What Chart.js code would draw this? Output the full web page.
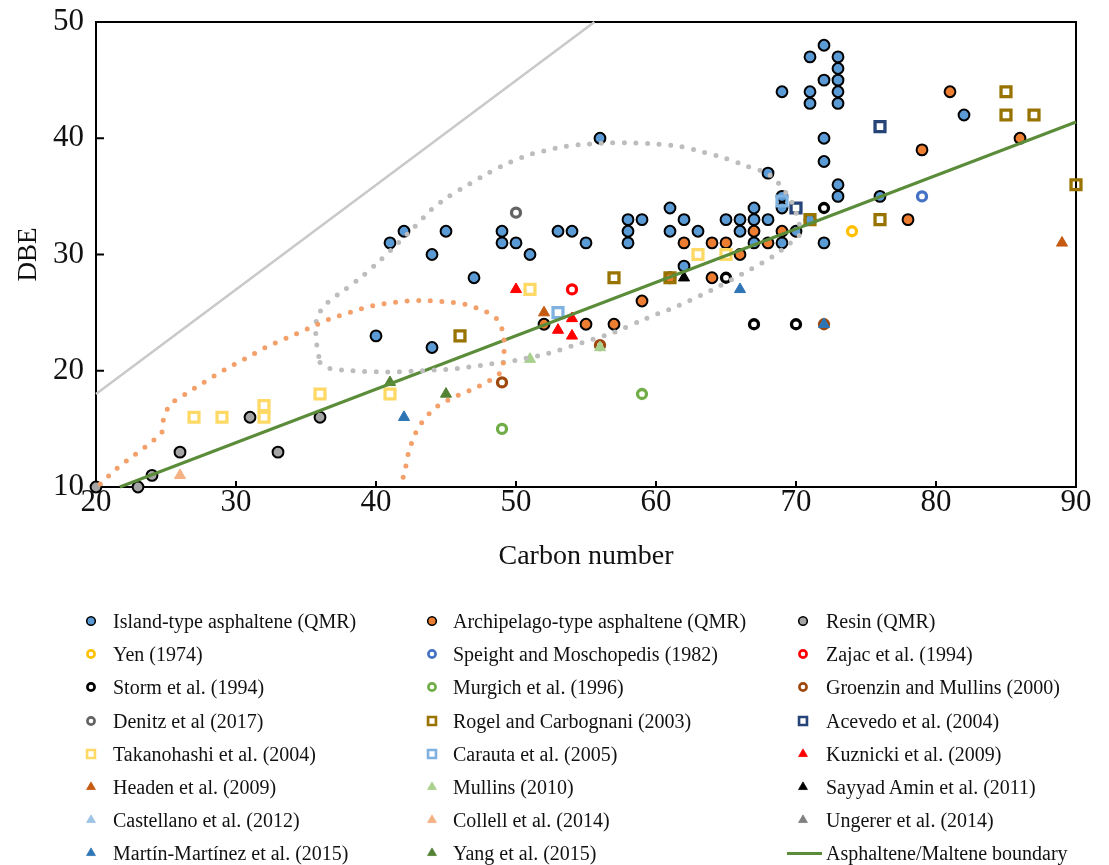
<!DOCTYPE html>
<html>
<head>
<meta charset="utf-8">
<script src="https://cdn.jsdelivr.net/npm/chart.js"></script>
<style>
  body { margin: 0; background: #fff; }
  #wrap { position: relative; width: 1109px; height: 865px; }
  #box { position: absolute; left: 0; top: 0; width: 1109px; height: 580px; }
  #legend { position: absolute; left: 0; top: 0; width: 1109px; height: 865px;
    font-family: "Liberation Serif", "Times New Roman", serif; font-size: 20px; color: #111; }
  .item { position: absolute; white-space: nowrap; line-height: 24px; }
  .mk { position: absolute; }
</style>
</head>
<body>
<div id="wrap">
  <div id="box"><canvas id="chart"></canvas></div>
  <div id="legend"></div>
</div>
<script>
// data: [carbon number, DBE]
const island = [[72,48],[71,47],[73,47],[73,46],[72,45],[73,45],[69,44],[71,44],[73,44],[71,43],[73,43],
  [82,42],[56,40],[72,40],[72,38],[68,37],[73,36],[73,35],[76,35],[69,35],[61,34],[67,34],[69,34],
  [58,33],[59,33],[62,33],[65,33],[66,33],[67,33],[68,33],[71,33],
  [42,32],[45,32],[49,32],[53,32],[54,32],[58,32],[61,32],[63,32],[66,32],[70,32],
  [41,31],[49,31],[50,31],[55,31],[58,31],[67,31],[69,31],[72,31],
  [44,30],[51,30],[62,29],[47,28],[40,23],[44,22]];
const archipelago = [[81,44],[86,40],[79,39],[78,33],[67,32],[69,32],[62,31],[64,31],[65,31],[68,31],
  [66,30],[61,28],[64,28],[59,26],[52,24],[55,24],[57,24]];
const resin = [[20,10],[23,10],[24,11],[26,13],[33,13],[31,16],[36,16]];
const yen = [[74,32]];
const speight = [[79,35]];
const zajac = [[54,27]];
const storm = [[72,34],[65,28],[67,24],[70,24]];
const murgich = [[49,15],[59,18]];
const groenzin = [[49,19],[56,22.2],[72,24]];
const denitz = [[50,33.6]];
const rogel = [[85,44],[85,42],[87,42],[90,36],[71,33],[76,33],[57,28],[61,28],[46,23]];
const acevedo = [[76,41],[70,34]];
const takanohashi = [[27,16],[29,16],[32,16],[32,17],[36,18],[41,18],[51,27],[63,30],[65,30]];
const carauta = [[69,34.6],[53,25]];
const kuznicki = [[50,27],[54,24.5],[53,23.5],[54,23]];
const headen = [[89,31],[52,25]];
const mullins = [[51,21],[56,22]];
const sayyad = [[62,28]];
const castellano = [];
const collell = [[26,11]];
const ungerer = [];
const martin = [[42,16],[66,27],[72,24]];
const yang = [[41,19],[45,18]];
const boundary = [[21.7,10],[90,41.4]];
const maxLine = [[20,18],[55.6,50]];
const islandRegion = [[36.0,20.7],[36.7,20.2],[38.3,20.0],[40.8,19.9],[43.3,20.0],[45.8,20.2],[48.3,20.6],
  [50.0,20.9],[52.3,21.5],[54.7,22.4],[57.0,23.3],[59.3,24.5],[61.6,25.6],[63.9,26.9],[66.1,28.3],
  [68.3,29.8],[69.6,31.0],[70.3,31.8],[70.2,32.8],[69.7,34.5],[68.7,36.2],[67.9,37.0],[66.5,37.6],
  [64.9,38.3],[63.4,38.8],[61.7,39.3],[60.1,39.5],[58.5,39.6],[56.8,39.6],[55.2,39.5],[53.5,39.3],
  [51.0,38.6],[49.5,37.9],[48.0,37.0],[46.6,36.0],[45.2,35.0],[43.9,33.8],[42.7,32.3],[41.5,30.9],
  [40.3,29.5],[39.1,28.2],[37.8,27.0],[36.5,25.8],[35.8,24.6],[35.7,23.0],[35.8,22.0],[36.0,20.7]];
const archRegion = [[20.3,10.25],[21.5,11.6],[22.8,12.8],[24.1,14.0],[24.7,14.7],[24.8,15.7],[25.1,16.7],
  [25.6,17.4],[26.4,18.0],[27.7,19.0],[29.2,20.1],[30.6,21.0],[32.1,22.0],[33.6,22.8],[35.1,23.6],
  [36.6,24.4],[38.2,25.05],[39.8,25.6],[41.4,25.9],[43.1,26.05],[44.7,25.95],[46.4,25.7],[47.9,25.05],
  [48.6,24.5],[49.0,23.6],[49.15,22.6],[49.15,21.7],[49.1,20.7],[48.85,19.8],[48.1,19.15],[47.4,18.7],
  [46.7,18.3],[45.9,17.9],[45.2,17.5],[44.45,17.0],[43.8,16.3],[43.3,15.6],[42.85,14.7],[42.55,13.8],
  [42.3,12.85],[42.15,11.9],[41.95,10.9],[41.85,10.0]];

const xTicks = [20, 30, 40, 50, 60, 70, 80, 90];
const yTicks = [10, 20, 30, 40, 50];

const serif = '"Liberation Serif", "Times New Roman", serif';

// marker kinds
function dot(fill) { return { pointStyle: 'circle', pointRadius: 5.4, pointBorderWidth: 2, pointBackgroundColor: fill, pointBorderColor: '#000' }; }
function ring(col) { return { pointStyle: 'circle', pointRadius: 4.5, pointBorderWidth: 3.3, pointBackgroundColor: 'transparent', pointBorderColor: col }; }
function box(col) { return { pointStyle: 'rect', pointRadius: 7, pointBorderWidth: 3.3, pointBackgroundColor: 'transparent', pointBorderColor: col }; }
function tri(col) { return { pointStyle: 'triangle', pointRadius: 6.4, pointBorderWidth: 1, pointBackgroundColor: col, pointBorderColor: col }; }

const series = [
  ["Island-type asphaltene (QMR)", island, dot('#5B9BD5')],
  ["Archipelago-type asphaltene (QMR)", archipelago, dot('#ED7D31')],
  ["Resin (QMR)", resin, dot('#A5A5A5')],
  ["Yen (1974)", yen, ring('#FFC000')],
  ["Speight and Moschopedis (1982)", speight, ring('#4472C4')],
  ["Zajac et al. (1994)", zajac, ring('#FF0000')],
  ["Storm et al. (1994)", storm, ring('#000000')],
  ["Murgich et al.  (1996)", murgich, ring('#70AD47')],
  ["Groenzin and Mullins (2000)", groenzin, ring('#9E480E')],
  ["Denitz et al (2017)", denitz, ring('#636363')],
  ["Rogel and Carbognani (2003)", rogel, box('#997300')],
  ["Acevedo et al. (2004)", acevedo, box('#264478')],
  ["Takanohashi et al. (2004)", takanohashi, box('#FFD966')],
  ["Carauta et al. (2005)", carauta, box('#7FB2E1')],
  ["Kuznicki et al. (2009)", kuznicki, tri('#FF0000')],
  ["Headen et al. (2009)", headen, tri('#C55A11')],
  ["Mullins (2010)", mullins, tri('#A9D18E')],
  ["Sayyad Amin et al. (2011)", sayyad, tri('#000000')],
  ["Castellano et al. (2012)", castellano, tri('#9DC3E6')],
  ["Collell et al. (2014)", collell, tri('#F4B183')],
  ["Ungerer et al. (2014)", ungerer, tri('#7F7F7F')],
  ["Martín-Martínez et al. (2015)", martin, tri('#2E75B6')],
  ["Yang et al. (2015)", yang, tri('#548235')]
];

function pts(arr) { return arr.map(p => ({ x: p[0], y: p[1] })); }

let datasets = series.map((s, i) => Object.assign({
  label: s[0],
  data: pts(s[1]),
  showLine: false,
  clip: false,
  order: -i
}, s[2], { pointHoverRadius: s[2].pointRadius }));

datasets.push({
  label: "Asphaltene/Maltene boundary", data: pts(boundary), showLine: true, borderColor: '#5B8C3A',
  borderWidth: 3, pointRadius: 0, clip: false, order: -100
});
datasets.push({
  label: "max", data: pts(maxLine), showLine: true, borderColor: '#C9C9C9',
  borderWidth: 2.5, pointRadius: 0, clip: false, order: -101
});
datasets.push({
  label: "island region", data: pts(islandRegion), showLine: true, borderColor: '#BDBDBD',
  borderWidth: 5, borderDash: [0, 11.6], borderCapStyle: 'round', tension: 0.3, pointRadius: 0, clip: false, order: -102
});
datasets.push({
  label: "archipelago region", data: pts(archRegion), showLine: true, borderColor: '#F3A06A',
  borderWidth: 5, borderDash: [0, 11.6], borderCapStyle: 'round', tension: 0.3, pointRadius: 0, clip: false, order: -103
});

// frame with inward ticks, drawn under the markers
const frame = {
  id: 'frame',
  beforeDatasetsDraw(chart) {
    const { ctx, chartArea: a, scales } = chart;
    ctx.save();
    ctx.strokeStyle = '#000';
    ctx.lineWidth = 2;
    ctx.strokeRect(a.left, a.top, a.right - a.left, a.bottom - a.top);
    ctx.beginPath();
    yTicks.forEach(v => {
      const y = scales.y.getPixelForValue(v);
      ctx.moveTo(a.left, y); ctx.lineTo(a.left + 8, y);
    });
    xTicks.forEach(v => {
      const x = scales.x.getPixelForValue(v);
      ctx.moveTo(x, a.bottom); ctx.lineTo(x, a.bottom - 6);
    });
    ctx.stroke();
    ctx.restore();
  }
};

const chart = new Chart(document.getElementById('chart'), {
  type: 'scatter',
  data: { datasets: datasets },
  options: {
    responsive: true,
    maintainAspectRatio: false,
    animation: false,
    events: [],
    layout: { padding: { top: 22, right: 33, left: 0, bottom: 0 } },
    plugins: { legend: { display: false }, tooltip: { enabled: false } },
    scales: {
      x: {
        type: 'linear', min: 20, max: 90,
        afterBuildTicks: (s) => { s.ticks = xTicks.map(v => ({ value: v })); },
        afterFit: (s) => { s.height = 93; s.paddingLeft = 0; s.paddingRight = 0; },
        grid: { display: false, drawTicks: false },
        border: { display: false },
        ticks: { color: '#111', padding: -3, font: { family: serif, size: 31 } },
        title: { display: true, text: 'Carbon number', color: '#111', padding: { top: 0, bottom: 7 },
          font: { family: serif, size: 28 } }
      },
      y: {
        type: 'linear', min: 10, max: 50,
        afterBuildTicks: (s) => { s.ticks = yTicks.map(v => ({ value: v })); },
        afterFit: (s) => { s.width = 96; s.paddingTop = 0; s.paddingBottom = 0; },
        grid: { display: false, drawTicks: false },
        border: { display: false },
        ticks: { color: '#111', padding: 12, font: { family: serif, size: 31 } },
        title: { display: true, text: 'DBE', color: '#111', padding: { top: 13, bottom: 0 },
          font: { family: serif, size: 27 } }
      }
    }
  },
  plugins: [frame]
});

// legend, three columns filled row by row
const legend = document.getElementById('legend');
const colMarkX = [91, 432, 803];
const colTextX = [113, 453, 826];
const rowY0 = 621, rowStep = 33.2;

function drawMarker(c, st) {
  const g = c.getContext('2d');
  const cx = 10, cy = 10, k = 0.8;
  g.lineWidth = st.pointBorderWidth * k;
  g.strokeStyle = st.pointBorderColor;
  g.fillStyle = st.pointBackgroundColor;
  g.beginPath();
  const r = st.pointRadius * k;
  if (st.pointStyle === 'circle') {
    g.arc(cx, cy, r, 0, Math.PI * 2);
  } else if (st.pointStyle === 'rect') {
    const h = r * Math.SQRT1_2;
    g.rect(cx - h, cy - h, 2 * h, 2 * h);
  } else {
    g.moveTo(cx, cy - r);
    g.lineTo(cx + r * 0.866, cy + r * 0.5);
    g.lineTo(cx - r * 0.866, cy + r * 0.5);
    g.closePath();
  }
  if (st.pointBackgroundColor !== 'transparent') g.fill();
  g.stroke();
}

const entries = series.map(s => ({ text: s[0], style: s[2] }));
entries.push({ text: "Asphaltene/Maltene boundary", line: '#5B8C3A' });

entries.forEach((e, i) => {
  const col = i % 3, row = Math.floor(i / 3);
  const y = rowY0 + row * rowStep;
  if (e.line) {
    const l = document.createElement('div');
    l.style.cssText = `position:absolute;left:787px;top:${y - 1.5}px;width:35px;height:3px;background:${e.line}`;
    legend.appendChild(l);
  } else {
    const c = document.createElement('canvas');
    c.width = 20; c.height = 20; c.className = 'mk';
    c.style.left = (colMarkX[col] - 10) + 'px';
    c.style.top = (y - 10) + 'px';
    drawMarker(c, e.style);
    legend.appendChild(c);
  }
  const t = document.createElement('div');
  t.className = 'item';
  t.textContent = e.text;
  t.style.left = colTextX[col] + 'px';
  t.style.top = (y - 12) + 'px';
  legend.appendChild(t);
});
</script>
</body>
</html>
